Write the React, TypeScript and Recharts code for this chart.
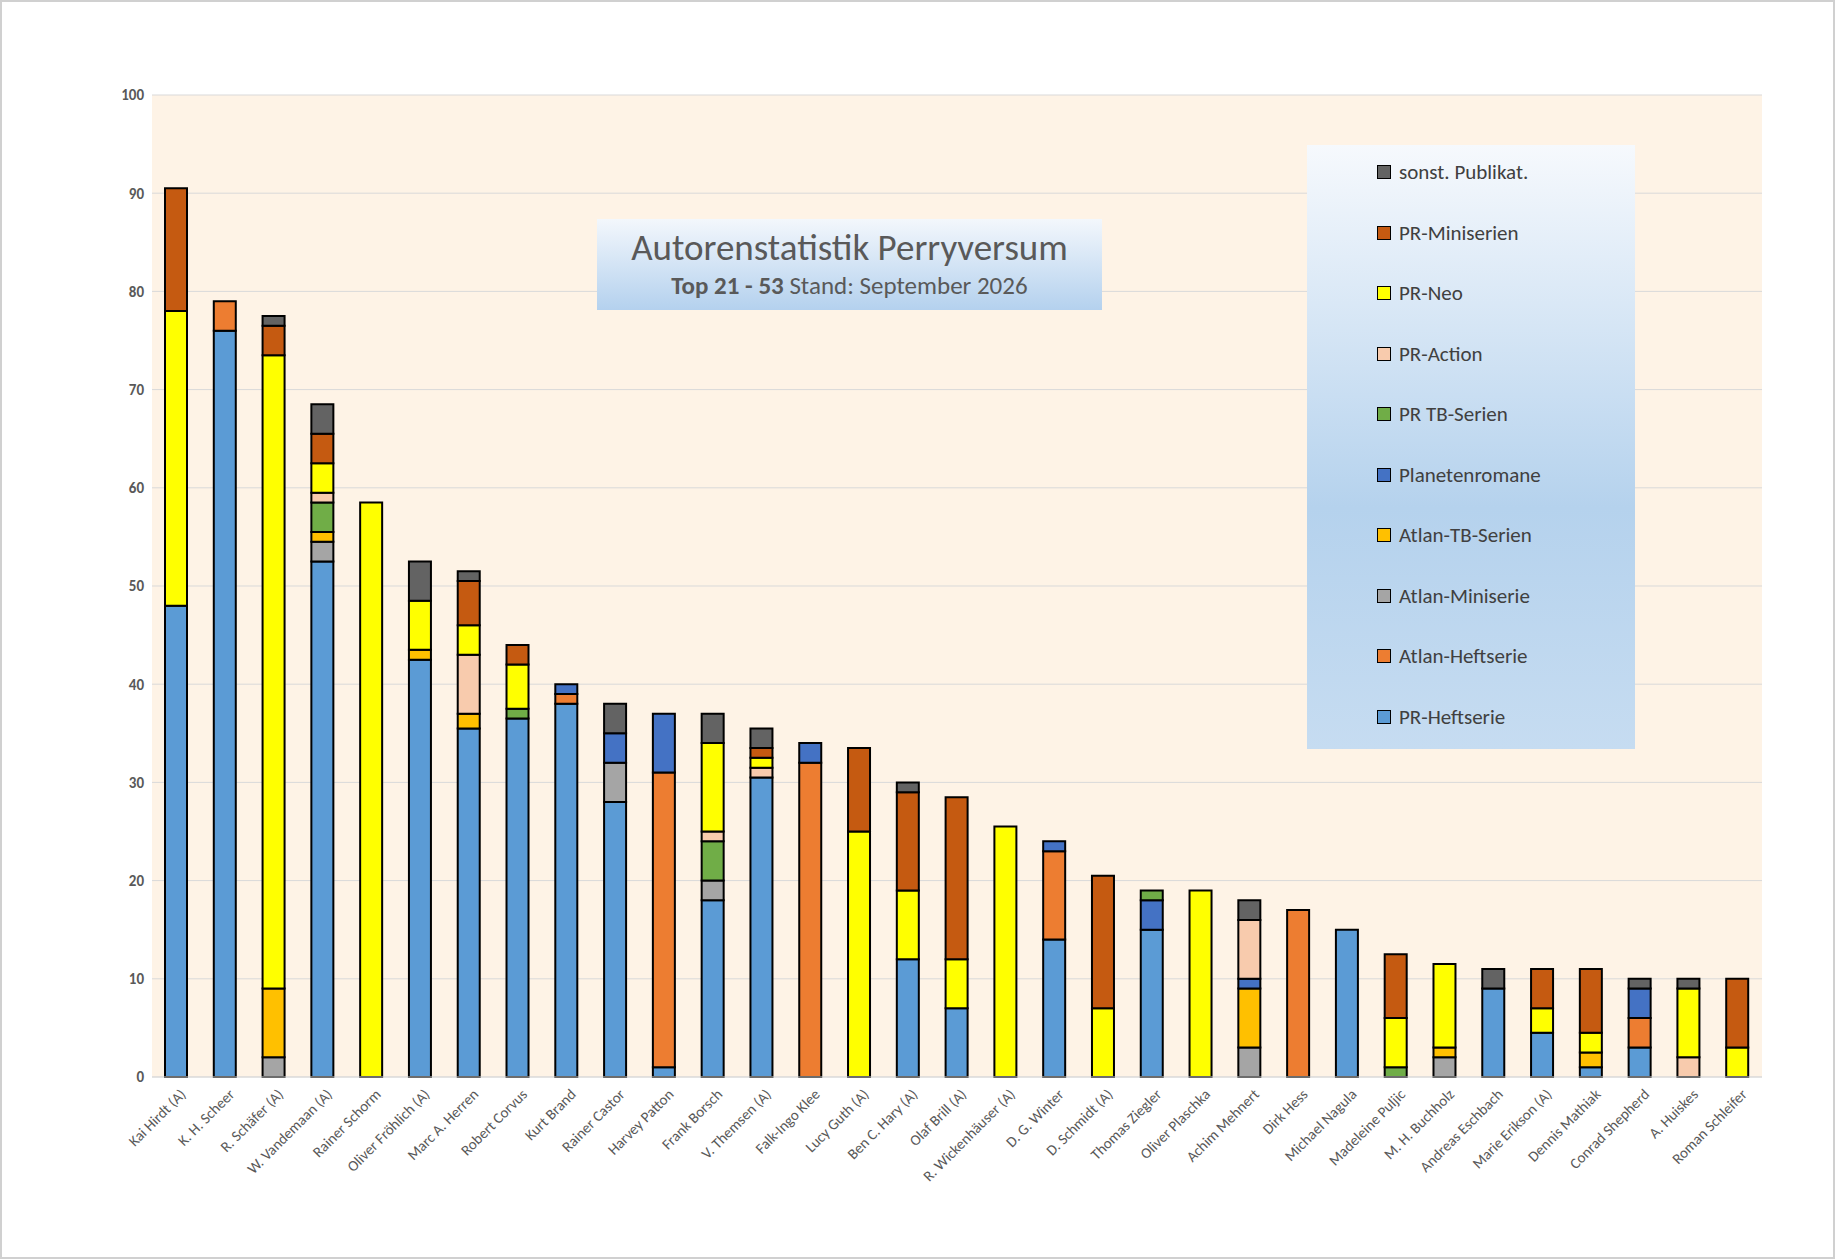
import React from 'react';
import { BarChart, Bar, XAxis, YAxis, CartesianGrid } from 'recharts';

const authors = [
  'Kai Hirdt (A)', 'K. H. Scheer', 'R. Schäfer (A)', 'W. Vandemaan (A)', 'Rainer Schorm',
  'Oliver Fröhlich (A)', 'Marc A. Herren', 'Robert Corvus', 'Kurt Brand', 'Rainer Castor',
  'Harvey Patton', 'Frank Borsch', 'V. Themsen (A)', 'Falk-Ingo Klee', 'Lucy Guth (A)',
  'Ben C. Hary (A)', 'Olaf Brill (A)', 'R. Wickenhäuser (A)', 'D. G. Winter', 'D. Schmidt (A)',
  'Thomas Ziegler', 'Oliver Plaschka', 'Achim Mehnert', 'Dirk Hess', 'Michael Nagula',
  'Madeleine Puljic', 'M. H. Buchholz', 'Andreas Eschbach', 'Marie Erikson (A)', 'Dennis Mathiak',
  'Conrad Shepherd', 'A. Huiskes', 'Roman Schleifer',
];

// one array per series, in author order
const prHeft = [48, 76, 0, 52.5, 0, 42.5, 35.5, 36.5, 38, 28, 1, 18, 30.5, 0, 0, 12, 7, 0, 14, 0, 15, 0, 0, 0, 15, 0, 0, 9, 4.5, 1, 3, 0, 0];
const atlanHeft = [0, 3, 0, 0, 0, 0, 0, 0, 1, 0, 30, 0, 0, 32, 0, 0, 0, 0, 9, 0, 0, 0, 0, 17, 0, 0, 0, 0, 0, 0, 3, 0, 0];
const atlanMini = [0, 0, 2, 2, 0, 0, 0, 0, 0, 4, 0, 2, 0, 0, 0, 0, 0, 0, 0, 0, 0, 0, 3, 0, 0, 0, 2, 0, 0, 0, 0, 0, 0];
const atlanTb = [0, 0, 7, 1, 0, 1, 1.5, 0, 0, 0, 0, 0, 0, 0, 0, 0, 0, 0, 0, 0, 0, 0, 6, 0, 0, 0, 1, 0, 0, 1.5, 0, 0, 0];
const planeten = [0, 0, 0, 0, 0, 0, 0, 0, 1, 3, 6, 0, 0, 2, 0, 0, 0, 0, 1, 0, 3, 0, 1, 0, 0, 0, 0, 0, 0, 0, 3, 0, 0];
const prTb = [0, 0, 0, 3, 0, 0, 0, 1, 0, 0, 0, 4, 0, 0, 0, 0, 0, 0, 0, 0, 1, 0, 0, 0, 0, 1, 0, 0, 0, 0, 0, 0, 0];
const prAction = [0, 0, 0, 1, 0, 0, 6, 0, 0, 0, 0, 1, 1, 0, 0, 0, 0, 0, 0, 0, 0, 0, 6, 0, 0, 0, 0, 0, 0, 0, 0, 2, 0];
const prNeo = [30, 0, 64.5, 3, 58.5, 5, 3, 4.5, 0, 0, 0, 9, 1, 0, 25, 7, 5, 25.5, 0, 7, 0, 19, 0, 0, 0, 5, 8.5, 0, 2.5, 2, 0, 7, 3];
const prMini = [12.5, 0, 3, 3, 0, 0, 4.5, 2, 0, 0, 0, 0, 1, 0, 8.5, 10, 16.5, 0, 0, 13.5, 0, 0, 0, 0, 0, 6.5, 0, 0, 4, 6.5, 0, 0, 7];
const sonst = [0, 0, 1, 3, 0, 4, 1, 0, 0, 3, 0, 3, 2, 0, 0, 1, 0, 0, 0, 0, 0, 0, 2, 0, 0, 0, 0, 2, 0, 0, 1, 1, 0];

const yTicks = [0, 10, 20, 30, 40, 50, 60, 70, 80, 90, 100];

const series = [
  { key: 'prHeft', name: 'PR-Heftserie', color: '#5b9bd5', values: prHeft },
  { key: 'atlanHeft', name: 'Atlan-Heftserie', color: '#ed7d31', values: atlanHeft },
  { key: 'atlanMini', name: 'Atlan-Miniserie', color: '#a5a5a5', values: atlanMini },
  { key: 'atlanTb', name: 'Atlan-TB-Serien', color: '#ffc000', values: atlanTb },
  { key: 'planeten', name: 'Planetenromane', color: '#4472c4', values: planeten },
  { key: 'prTb', name: 'PR TB-Serien', color: '#70ad47', values: prTb },
  { key: 'prAction', name: 'PR-Action', color: '#f8cbad', values: prAction },
  { key: 'prNeo', name: 'PR-Neo', color: '#ffff00', values: prNeo },
  { key: 'prMini', name: 'PR-Miniserien', color: '#c55a11', values: prMini },
  { key: 'sonst', name: 'sonst. Publikat.', color: '#636363', values: sonst },
];

const data = authors.map((name, i) => {
  const row: Record<string, string | number> = { name };
  series.forEach((s) => { row[s.key] = s.values[i]; });
  return row;
});

const font = 'Carlito, "Open Sans", "Liberation Sans", sans-serif';

const XTick = (props: any) => {
  const { x, y, payload } = props;
  return (
    <text x={x + 6} y={y + 6} textAnchor="end" transform={`rotate(-45, ${x + 6}, ${y + 6})`}
      fontSize={15} fill="#595959" fontFamily={font} dy={6}>
      {payload.value}
    </text>
  );
};

export default function App() {
  return (
    <div style={{ position: 'absolute', left: 0, top: 0, width: 1835, height: 1259, background: '#fff',
      border: '2px solid #d0d0d0', boxSizing: 'border-box', fontFamily: font }}>
      <BarChart width={1831} height={1255} data={data} barSize={22}
        margin={{ top: 93, right: 71, left: 90, bottom: 60 }}>
        <CartesianGrid vertical={false} stroke="#d9d9d9" fill="#fef3e6" />
        <XAxis dataKey="name" interval={0} tick={<XTick />} tickLine={false} height={120}
          axisLine={{ stroke: '#d9d9d9' }} />
        <YAxis domain={[0, 100]} ticks={yTicks} axisLine={false} tickLine={false} width={60}
          tick={{ fontSize: 15, fill: '#595959', fontWeight: 'bold', fontFamily: font }} />
        {series.map((s) => (
          <Bar key={s.key} dataKey={s.key} name={s.name} stackId="a" fill={s.color}
            stroke="#000" strokeWidth={2} isAnimationActive={false} />
        ))}
      </BarChart>
      <div style={{ position: 'absolute', left: 595, top: 217, width: 505, height: 91,
        background: 'linear-gradient(#f3f7fc, #b4d1ee)', textAlign: 'center', color: '#595959' }}>
        <div style={{ fontSize: 37, marginTop: 6 }}>Autorenstatistik Perryversum</div>
        <div style={{ fontSize: 25 }}><b>Top 21 - 53</b> Stand: September 2026</div>
      </div>
      <div style={{ position: 'absolute', left: 1305, top: 143, width: 328, height: 604,
        background: 'linear-gradient(#f6f9fd, #b5d2ed 60%, #c6dcf1)' }}>
        {[...series].reverse().map((s, i) => (
          <div key={s.key} style={{ position: 'absolute', left: 70, top: 14 + i * 60.5,
            display: 'flex', alignItems: 'center', fontSize: 21, color: '#404040' }}>
            <span style={{ width: 12, height: 12, background: s.color, border: '1.5px solid #000',
              marginRight: 8, display: 'inline-block' }} />
            {s.name}
          </div>
        ))}
      </div>
    </div>
  );
}
